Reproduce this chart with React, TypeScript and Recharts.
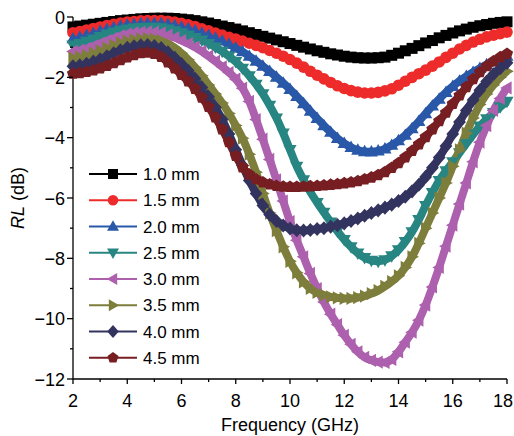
import React from "react"
import { LineChart, Line, XAxis, YAxis, Legend } from "recharts"

// frequency grid (GHz)
const freq = [
    2, 2.25, 2.5, 2.75, 3, 3.25, 3.5, 3.75, 4, 4.25, 4.5, 4.75, 5, 5.25, 5.5, 5.75,
    6, 6.25, 6.5, 6.75, 7, 7.25, 7.5, 7.75, 8, 8.25, 8.5, 8.75, 9, 9.25, 9.5, 9.75,
    10, 10.25, 10.5, 10.75, 11, 11.25, 11.5, 11.75, 12, 12.25, 12.5, 12.75, 13, 13.25, 13.5, 13.75,
    14, 14.25, 14.5, 14.75, 15, 15.25, 15.5, 15.75, 16, 16.25, 16.5, 16.75, 17, 17.25, 17.5, 17.75, 18,
]

// reflection loss (dB) per thickness
const rl10 = [
    -0.33, -0.30, -0.27, -0.24, -0.21, -0.18, -0.15, -0.12, -0.10, -0.08, -0.06, -0.05,
    -0.04, -0.04, -0.04, -0.05, -0.07, -0.09, -0.12, -0.16, -0.20, -0.25, -0.30, -0.35,
    -0.40, -0.46, -0.52, -0.58, -0.64, -0.70, -0.76, -0.82, -0.88, -0.94, -1.00, -1.06,
    -1.12, -1.17, -1.22, -1.26, -1.30, -1.33, -1.35, -1.36, -1.36, -1.35, -1.33, -1.27,
    -1.20, -1.12, -1.04, -0.95, -0.86, -0.78, -0.69, -0.61, -0.53, -0.46, -0.40, -0.34,
    -0.29, -0.25, -0.21, -0.18, -0.16,
]
const rl15 = [
    -0.52, -0.48, -0.43, -0.38, -0.33, -0.28, -0.24, -0.20, -0.17, -0.15, -0.13, -0.12,
    -0.12, -0.12, -0.14, -0.17, -0.21, -0.26, -0.32, -0.39, -0.46, -0.53, -0.60, -0.67,
    -0.73, -0.80, -0.87, -0.94, -1.02, -1.11, -1.20, -1.30, -1.41, -1.53, -1.66, -1.80,
    -1.93, -2.05, -2.17, -2.28, -2.37, -2.44, -2.49, -2.52, -2.52, -2.50, -2.45, -2.38,
    -2.26, -2.13, -2.00, -1.88, -1.76, -1.63, -1.49, -1.34, -1.20, -1.06, -0.94, -0.83,
    -0.74, -0.66, -0.60, -0.55, -0.50,
]
const rl20 = [
    -0.72, -0.67, -0.61, -0.54, -0.47, -0.41, -0.35, -0.30, -0.26, -0.24, -0.22, -0.21,
    -0.21, -0.22, -0.24, -0.28, -0.33, -0.38, -0.45, -0.53, -0.61, -0.70, -0.79, -0.90,
    -1.02, -1.15, -1.30, -1.46, -1.63, -1.80, -1.99, -2.19, -2.40, -2.63, -2.87, -3.12,
    -3.36, -3.60, -3.82, -4.02, -4.19, -4.32, -4.41, -4.46, -4.47, -4.44, -4.37, -4.25,
    -4.10, -3.92, -3.70, -3.46, -3.20, -2.95, -2.72, -2.50, -2.30, -2.12, -1.97, -1.83,
    -1.70, -1.58, -1.48, -1.38, -1.30,
]
const rl25 = [
    -0.93, -0.88, -0.81, -0.73, -0.65, -0.57, -0.50, -0.44, -0.40, -0.37, -0.35, -0.34,
    -0.34, -0.36, -0.40, -0.46, -0.53, -0.60, -0.68, -0.77, -0.88, -1.00, -1.14, -1.30,
    -1.48, -1.70, -1.95, -2.23, -2.55, -2.93, -3.35, -3.85, -4.40, -4.95, -5.40, -5.80,
    -6.15, -6.48, -6.80, -7.10, -7.38, -7.62, -7.83, -7.98, -8.07, -8.10, -8.05, -7.92,
    -7.72, -7.45, -7.12, -6.72, -6.25, -5.82, -5.42, -5.10, -4.80, -4.50, -4.20, -3.90,
    -3.62, -3.38, -3.17, -2.98, -2.80,
]
const rl30 = [
    -1.14, -1.10, -1.04, -0.96, -0.87, -0.78, -0.70, -0.62, -0.56, -0.52, -0.50, -0.49,
    -0.50, -0.53, -0.60, -0.68, -0.78, -0.88, -1.00, -1.14, -1.30, -1.47, -1.65, -1.84,
    -2.06, -2.36, -2.80, -3.40, -4.05, -4.72, -5.40, -6.10, -6.78, -7.40, -7.95, -8.50,
    -9.00, -9.45, -9.85, -10.20, -10.55, -10.85, -11.10, -11.28, -11.38, -11.44, -11.45, -11.35,
    -11.10, -10.78, -10.45, -10.05, -9.55, -8.95, -8.30, -7.60, -6.90, -6.20, -5.50, -4.80,
    -4.15, -3.60, -3.10, -2.70, -2.35,
]
const rl35 = [
    -1.36, -1.33, -1.28, -1.20, -1.12, -1.03, -0.94, -0.86, -0.80, -0.76, -0.73, -0.72,
    -0.73, -0.78, -0.88, -1.02, -1.20, -1.42, -1.67, -1.95, -2.25, -2.55, -2.85, -3.20,
    -3.60, -4.02, -4.55, -5.15, -5.85, -6.50, -7.08, -7.62, -8.10, -8.48, -8.78, -9.00,
    -9.13, -9.22, -9.28, -9.31, -9.33, -9.33, -9.30, -9.25, -9.17, -9.07, -8.93, -8.77,
    -8.58, -8.30, -7.95, -7.50, -7.00, -6.50, -6.00, -5.50, -4.95, -4.40, -3.85, -3.35,
    -2.90, -2.55, -2.25, -2.00, -1.80,
]
const rl40 = [
    -1.63, -1.60, -1.55, -1.48, -1.40, -1.30, -1.20, -1.10, -1.02, -0.97, -0.94, -0.93,
    -0.96, -1.03, -1.17, -1.35, -1.56, -1.78, -2.05, -2.34, -2.65, -3.00, -3.40, -3.88,
    -4.40, -4.92, -5.42, -5.85, -6.25, -6.55, -6.76, -6.91, -7.01, -7.07, -7.08, -7.06,
    -7.03, -7.00, -6.95, -6.90, -6.84, -6.76, -6.68, -6.59, -6.50, -6.41, -6.32, -6.22,
    -6.10, -5.96, -5.78, -5.56, -5.30, -5.00, -4.66, -4.28, -3.88, -3.48, -3.10, -2.75,
    -2.43, -2.14, -1.90, -1.70, -1.52,
]
const rl45 = [
    -1.88, -1.86, -1.82, -1.77, -1.70, -1.62, -1.53, -1.43, -1.34, -1.26, -1.20, -1.18,
    -1.22, -1.32, -1.50, -1.70, -1.92, -2.13, -2.38, -2.67, -2.98, -3.33, -3.72, -4.15,
    -4.60, -4.98, -5.22, -5.38, -5.48, -5.55, -5.60, -5.62, -5.63, -5.63, -5.62, -5.61,
    -5.60, -5.58, -5.56, -5.54, -5.51, -5.48, -5.44, -5.38, -5.32, -5.24, -5.14, -5.00,
    -4.84, -4.65, -4.44, -4.22, -3.98, -3.72, -3.45, -3.17, -2.88, -2.60, -2.32, -2.06,
    -1.83, -1.63, -1.47, -1.33, -1.22,
]

const xTicks = [2, 3, 4, 5, 6, 7, 8, 9, 10, 11, 12, 13, 14, 15, 16, 17, 18]
const yTicks = [-12, -11, -10, -9, -8, -7, -6, -5, -4, -3, -2, -1, 0]

type Shape = "square" | "circle" | "up" | "down" | "left" | "right" | "diamond" | "pentagon"

const series: { key: string; label: string; color: string; shape: Shape; values: number[] }[] = [
    { key: "t10", label: "1.0 mm", color: "#000000", shape: "square", values: rl10 },
    { key: "t15", label: "1.5 mm", color: "#ee2b2b", shape: "circle", values: rl15 },
    { key: "t20", label: "2.0 mm", color: "#2a58a8", shape: "up", values: rl20 },
    { key: "t25", label: "2.5 mm", color: "#288682", shape: "down", values: rl25 },
    { key: "t30", label: "3.0 mm", color: "#ad60ad", shape: "left", values: rl30 },
    { key: "t35", label: "3.5 mm", color: "#7e7e3c", shape: "right", values: rl35 },
    { key: "t40", label: "4.0 mm", color: "#33335f", shape: "diamond", values: rl40 },
    { key: "t45", label: "4.5 mm", color: "#761e21", shape: "pentagon", values: rl45 },
]

const rows = freq.map((f, i) => {
    const row: Record<string, number> = { f }
    series.forEach((s) => (row[s.key] = s.values[i]))
    return row
})

const FONT = "'Liberation Sans', Arial, sans-serif"
const MARK = 11

function Marker({ cx, cy, shape, color, size }: { cx: number; cy: number; shape: Shape; color: string; size: number }) {
    const s = size
    let pts: number[][] = []
    if (shape === "square") return <rect x={cx - s / 2} y={cy - s / 2} width={s} height={s} fill={color} />
    if (shape === "circle") return <circle cx={cx} cy={cy} r={s / 2 + 0.3} fill={color} />
    if (shape === "up") pts = [[0, -0.62], [-0.6, 0.42], [0.6, 0.42]]
    if (shape === "down") pts = [[0, 0.62], [-0.6, -0.42], [0.6, -0.42]]
    if (shape === "left") pts = [[-0.62, 0], [0.42, -0.6], [0.42, 0.6]]
    if (shape === "right") pts = [[0.62, 0], [-0.42, -0.6], [-0.42, 0.6]]
    if (shape === "diamond") pts = [[0, -0.64], [0.58, 0], [0, 0.64], [-0.58, 0]]
    if (shape === "pentagon")
        pts = [0, 1, 2, 3, 4].map((k) => {
            const a = -Math.PI / 2 + (k * 2 * Math.PI) / 5
            return [0.58 * Math.cos(a), 0.58 * Math.sin(a)]
        })
    return <polygon points={pts.map((p) => `${cx + p[0] * s},${cy + p[1] * s}`).join(" ")} fill={color} />
}

const axisLine = { stroke: "#000", strokeWidth: 1.3 }
const fmt = (v: number) => (v < 0 ? `\u2212${Math.abs(v)}` : `${v}`)

const BottomTick = (p: any) => {
    const v = p.payload.value
    const major = v % 2 === 0
    // keep the last label inside the picture
    const tx = v === 18 ? p.x - 4 : p.x
    return (
        <g>
            <line x1={p.x} x2={p.x} y1={p.y} y2={p.y + (major ? 5 : 3)} stroke="#000" strokeWidth={1.3} />
            {major && (
                <text x={tx} y={p.y + 28} textAnchor="middle" fontSize={18} fontFamily={FONT} fill="#000">
                    {v}
                </text>
            )}
        </g>
    )
}
const TopTick = (p: any) => {
    const major = p.payload.value % 2 === 0
    return <line x1={p.x} x2={p.x} y1={p.y} y2={p.y + (major ? 4 : 3)} stroke="#000" strokeWidth={1.2} />
}
const LeftTick = (p: any) => {
    const v = p.payload.value
    const major = v % 2 === 0
    return (
        <g>
            <line x1={p.x} x2={p.x - (major ? 6 : 3)} y1={p.y} y2={p.y} stroke="#000" strokeWidth={1.3} />
            {major && (
                <text x={p.x - 8} y={p.y + 6.5} textAnchor="end" fontSize={18} fontFamily={FONT} fill="#000">
                    {fmt(v)}
                </text>
            )}
        </g>
    )
}
const RightTick = (p: any) => {
    const major = p.payload.value % 2 === 0
    return <line x1={p.x} x2={p.x - (major ? 4 : 3)} y1={p.y} y2={p.y} stroke="#000" strokeWidth={1.2} />
}

const renderLegend = () => (
    <svg width={140} height={210} style={{ display: "block" }}>
        {series.map((s, i) => {
            const y = 14 + i * 26.25
            return (
                <g key={s.key}>
                    <line x1={4} x2={52} y1={y} y2={y} stroke={s.color} strokeWidth={2} />
                    <Marker cx={28} cy={y} shape={s.shape} color={s.color} size={10} />
                    <text x={58} y={y + 6} fontSize={17} fontFamily={FONT} fill="#000">
                        {s.label}
                    </text>
                </g>
            )
        })}
    </svg>
)

export default function App() {
    return (
        <div style={{ position: "absolute", left: 0, top: 0, width: 514, height: 436, background: "#fff" }}>
            <LineChart width={514} height={436} data={rows} margin={{ top: 17, right: 7, bottom: 0, left: 0 }}>
                <XAxis
                    xAxisId="b"
                    dataKey="f"
                    type="number"
                    domain={[2, 18]}
                    ticks={xTicks}
                    interval={0}
                    height={57}
                    tickSize={0}
                    tickMargin={0}
                    tickLine={false}
                    axisLine={axisLine}
                    tick={(p: any) => <BottomTick {...p} />}
                    label={() => (
                        <text x={290} y={431} textAnchor="middle" fontSize={18} fontFamily={FONT} fill="#000">
                            Frequency (GHz)
                        </text>
                    )}
                />
                <XAxis
                    xAxisId="t"
                    orientation="top"
                    dataKey="f"
                    type="number"
                    domain={[2, 18]}
                    ticks={xTicks}
                    interval={0}
                    height={0}
                    tickSize={0}
                    tickMargin={0}
                    tickLine={false}
                    axisLine={axisLine}
                    tick={(p: any) => <TopTick {...p} />}
                />
                <YAxis
                    yAxisId="l"
                    type="number"
                    domain={[-12, 0]}
                    ticks={yTicks}
                    interval={0}
                    width={73}
                    tickSize={0}
                    tickMargin={0}
                    tickLine={false}
                    axisLine={axisLine}
                    tick={(p: any) => <LeftTick {...p} />}
                    label={() => (
                        <text transform="translate(24,198) rotate(-90)" textAnchor="middle" fontSize={18} fontFamily={FONT} fill="#000">
                            <tspan fontStyle="italic">RL</tspan> (dB)
                        </text>
                    )}
                />
                <YAxis
                    yAxisId="r"
                    orientation="right"
                    type="number"
                    domain={[-12, 0]}
                    ticks={yTicks}
                    interval={0}
                    width={0}
                    tickSize={0}
                    tickMargin={0}
                    tickLine={false}
                    axisLine={axisLine}
                    tick={(p: any) => <RightTick {...p} />}
                />
                {series.map((s) => (
                    <Line
                        key={s.key}
                        xAxisId="b"
                        yAxisId="l"
                        dataKey={s.key}
                        stroke={s.color}
                        strokeWidth={8}
                        type="monotone"
                        isAnimationActive={false}
                        dot={(d: any) => (
                            <Marker key={`${s.key}-${d.index}`} cx={d.cx} cy={d.cy} shape={s.shape} color={s.color} size={MARK} />
                        )}
                        activeDot={false}
                    />
                ))}
                <Legend
                    layout="vertical"
                    align="center"
                    verticalAlign="middle"
                    content={renderLegend}
                    wrapperStyle={{ left: 85, top: 160, width: 140, height: 210 }}
                />
            </LineChart>
        </div>
    )
}
